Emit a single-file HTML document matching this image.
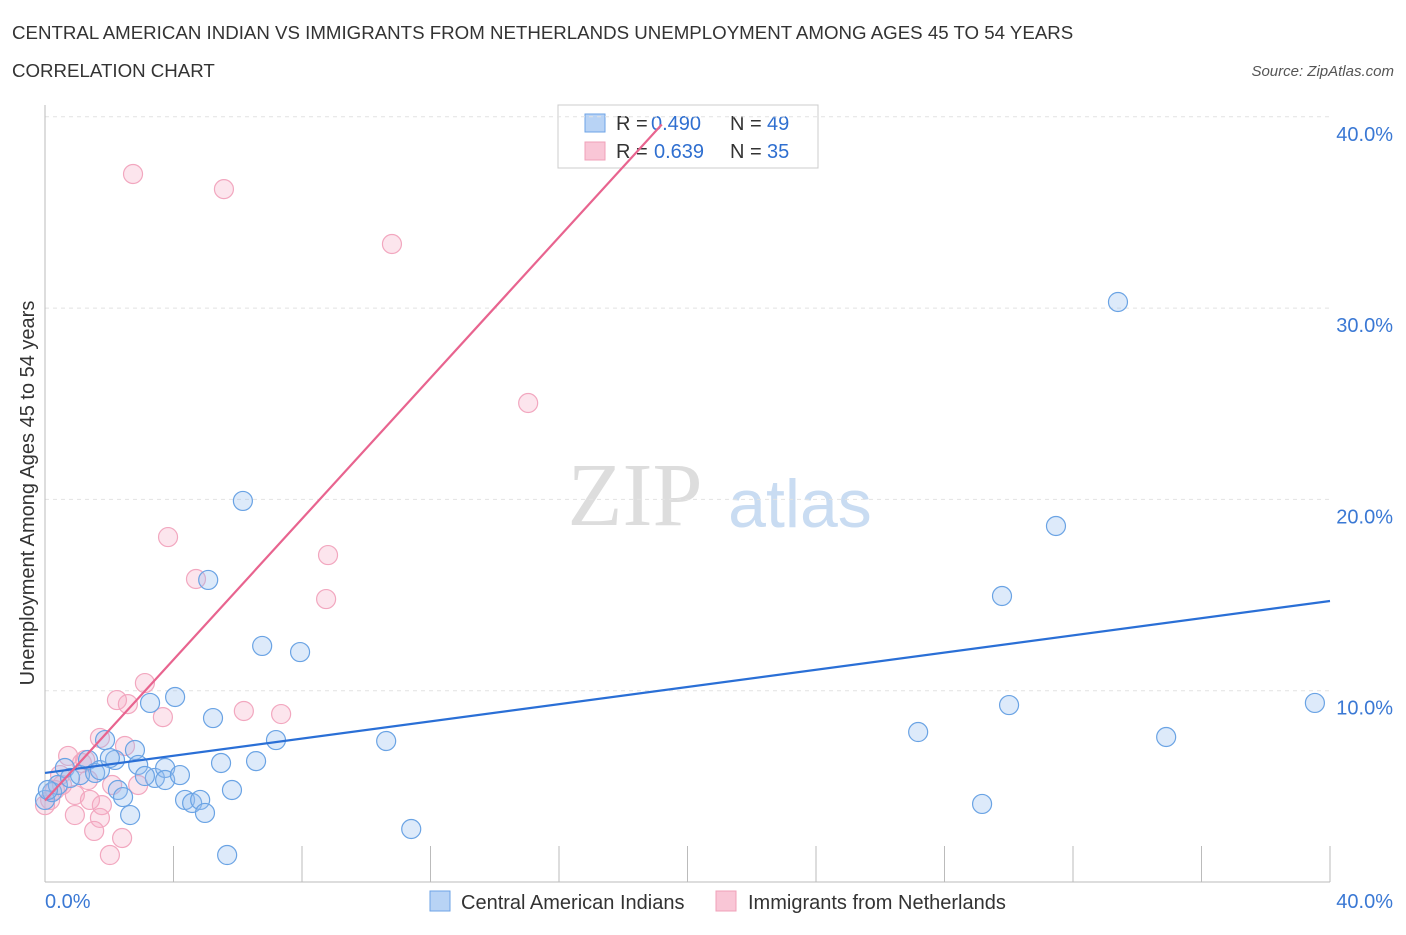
<!DOCTYPE html>
<html><head><meta charset="utf-8"><style>
body{margin:0;background:#fff;font-family:"Liberation Sans",sans-serif}
svg text{font-family:"Liberation Sans",sans-serif}
</style></head><body>
<svg id="c" width="1406" height="930">
<text x="12" y="39" font-size="18.7" fill="#333">CENTRAL AMERICAN INDIAN VS IMMIGRANTS FROM NETHERLANDS UNEMPLOYMENT AMONG AGES 45 TO 54 YEARS</text>
<text x="12" y="77" font-size="18.7" fill="#333">CORRELATION CHART</text>
<text x="1394" y="76" font-size="15" fill="#555" font-style="italic" text-anchor="end">Source: ZipAtlas.com</text>
<text x="635" y="525" font-size="90" fill="#ddd" text-anchor="middle" style="font-family:'Liberation Serif',serif">ZIP</text>
<text x="800" y="527" font-size="68" fill="#c9dcf2" text-anchor="middle">atlas</text>
<text transform="translate(34,493) rotate(-90)" font-size="20" fill="#333" text-anchor="middle">Unemployment Among Ages 45 to 54 years</text>
<g>
<rect x="558" y="105" width="260" height="63" fill="#fff" stroke="#ccc"/>
<rect x="585" y="114" width="20" height="18" fill="#b8d3f5" stroke="#6ea3e6"/>
<rect x="585" y="142" width="20" height="18" fill="#f9c6d6" stroke="#f0a0b8"/>
<text x="616" y="130" font-size="20" fill="#333">R =</text><text x="651" y="130" font-size="20" fill="#2f6fd0">0.490</text>
<text x="730" y="130" font-size="20" fill="#333">N =</text><text x="767" y="130" font-size="20" fill="#2f6fd0">49</text>
<text x="616" y="158" font-size="20" fill="#333">R =</text><text x="654" y="158" font-size="20" fill="#2f6fd0">0.639</text>
<text x="730" y="158" font-size="20" fill="#333">N =</text><text x="767" y="158" font-size="20" fill="#2f6fd0">35</text>
</g>
<g id="axes"></g><g id="marks"></g>
<g>
<rect x="430" y="891" width="20" height="20" fill="#b8d3f5" stroke="#6ea3e6"/>
<text x="461" y="909" font-size="20" fill="#333">Central American Indians</text>
<rect x="716" y="891" width="20" height="20" fill="#f9c6d6" stroke="#f0a0b8"/>
<text x="748" y="909" font-size="20" fill="#333">Immigrants from Netherlands</text>
</g>
</svg>
<script>
const blueX=[0,0.22,0.40,0.62,0.78,1.09,1.34,1.56,1.71,1.87,2.18,2.27,2.43,2.65,2.80,2.90,3.27,3.42,3.74,3.74,4.05,4.20,4.36,4.58,4.83,4.98,5.08,5.23,5.48,5.82,5.67,6.16,6.57,6.76,7.19,7.94,10.62,11.40,27.18,29.17,29.79,30.01,31.47,33.40,34.90,39.53,3.11,2.02,0.09];
const blueY=[4.29,4.70,5.07,5.96,5.44,5.59,6.38,5.70,5.85,7.42,6.38,4.81,4.44,3.50,6.90,6.12,9.36,5.44,5.96,5.33,9.67,5.59,4.29,4.13,4.29,3.61,15.79,8.57,6.22,4.81,1.41,19.92,6.32,12.34,7.42,12.02,7.37,2.77,7.84,4.08,14.95,9.25,18.61,30.32,7.58,9.36,5.54,6.48,4.81];
const pinkX=[2.74,5.57,10.80,15.04,3.83,4.70,8.81,8.75,3.11,2.24,2.58,3.67,6.19,7.35,1.71,2.49,0.72,1.15,1.34,0.53,0.93,0.16,0.31,1.40,1.77,2.09,2.90,1.71,0.93,1.53,2.40,2.02,0.47,1.25,0];
const pinkY=[37.01,36.22,33.35,25.04,18.03,15.84,17.09,14.79,10.40,9.51,9.30,8.62,8.94,8.78,7.53,7.11,6.59,6.22,5.33,5.07,4.55,4.29,4.81,4.29,4.02,5.07,5.07,3.35,3.50,2.67,2.30,1.41,5.59,6.38,4.02];
const blueTrendX=[0,40];
const blueTrendY=[5.70,14.69];
const pinkTrendX=[0,19.2];
const pinkTrendY=[4.26,39.6];
const yTicks=[10,20,30,40];
const yTickLabels=["10.0%","20.0%","30.0%","40.0%"];
const xTicks=[0,4,8,12,16,20,24,28,32,36,40];

const NS="http://www.w3.org/2000/svg";
const X0=45,X1=1330,Y0=882,PXY=19.13;
const sx=v=>X0+(X1-X0)*v/40;
const sy=v=>Y0-PXY*v;
const axes=document.getElementById('axes'),marks=document.getElementById('marks');
function mk(tag,attrs,parent){const e=document.createElementNS(NS,tag);for(const k in attrs)e.setAttribute(k,attrs[k]);parent.appendChild(e);return e;}

yTicks.forEach((t,i)=>{
  const g=mk('line',{x1:X0,x2:X1,y1:sy(t),y2:sy(t),stroke:'#e2e2e2','stroke-dasharray':'4,4'},axes);
  
  
  const tx=mk('text',{x:1393,y:sy(t)+24,'font-size':20,fill:'#3a78d4','text-anchor':'end'},axes);
  tx.textContent=yTickLabels[i];
  
  
});
const yax=mk('line',{x1:X0,x2:X0,y1:105,y2:Y0,stroke:'#bbb'},axes);


const xax=mk('line',{x1:X0,x2:X1,y1:Y0,y2:Y0,stroke:'#bbb'},axes);


xTicks.forEach(t=>{
  const l=mk('line',{x1:sx(t),x2:sx(t),y1:Y0-36,y2:Y0,stroke:'#bbb'},axes);
  
  
});
const xl0=mk('text',{x:45,y:908,'font-size':20,fill:'#3a78d4'},axes);xl0.textContent='0.0%';


const xl1=mk('text',{x:1393,y:908,'font-size':20,fill:'#3a78d4','text-anchor':'end'},axes);xl1.textContent='40.0%';



pinkX.forEach((x,i)=>{
  const c=mk('circle',{cx:sx(x),cy:sy(pinkY[i]),r:9.5,fill:'rgba(246,170,195,0.3)',stroke:'#f2a7bf','stroke-width':1.2},marks);
  
  
});
blueX.forEach((x,i)=>{
  const c=mk('circle',{cx:sx(x),cy:sy(blueY[i]),r:9.5,fill:'rgba(150,190,238,0.32)',stroke:'#6aa3e4','stroke-width':1.2},marks);
  
  
});
const bl=mk('line',{x1:sx(blueTrendX[0]),y1:sy(blueTrendY[0]),x2:sx(blueTrendX[1]),y2:sy(blueTrendY[1]),stroke:'#2a6fd6','stroke-width':2.2},marks);


const pl=mk('line',{x1:sx(pinkTrendX[0]),y1:sy(pinkTrendY[0]),x2:sx(pinkTrendX[1]),y2:sy(pinkTrendY[1]),stroke:'#e8648f','stroke-width':2.2},marks);


</script>
</body></html>
